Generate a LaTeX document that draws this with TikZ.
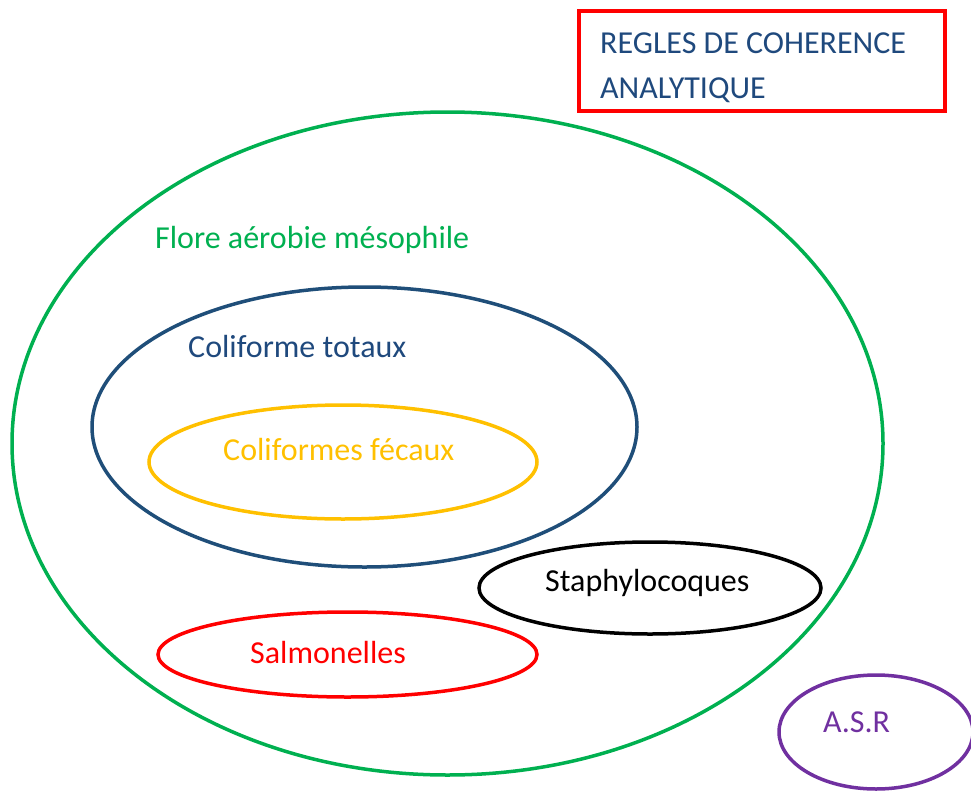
\documentclass[tikz,border=0pt]{standalone}
\usepackage{fontspec}
\setmainfont{Carlito}
\definecolor{navy}{HTML}{1F497D}
\definecolor{ellblue}{HTML}{1F4E79}
\definecolor{grn}{HTML}{00B050}
\definecolor{gold}{HTML}{FFC000}
\definecolor{purp}{HTML}{7030A0}
\begin{document}
\begin{tikzpicture}[x=1pt,y=-1pt,
  ring/.style={line width=3.5pt},
  lbl/.style={anchor=base west,inner sep=0pt,font=\fontsize{32}{38}\selectfont}]
\useasboundingbox (0,0) rectangle (971,792);
% title box
\draw[red,line width=4pt] (579,11) rectangle (945,111);
\node[lbl,text=navy] (t1) at (600,53) {REGLES DE COHERENCE};
\node[lbl,text=navy] (t2) at (600,98) {ANALYTIQUE};
% nested sets
\draw[grn,ring] (447.5,443.5) ellipse [x radius=435.5,y radius=331.5];
\node[lbl,text=grn] (fam) at (155,248) {Flore aérobie mésophile};
\draw[ellblue,ring] (364.5,427) ellipse [x radius=272.5,y radius=140];
\node[lbl,text=navy] (ct) at (188,357) {Coliforme totaux};
\draw[gold,ring] (343,462) ellipse [x radius=194,y radius=57];
\node[lbl,text=gold] (cf) at (223,460) {Coliformes fécaux};
\draw[black,ring] (650,588) ellipse [x radius=171,y radius=46];
\node[lbl,text=black] (st) at (545,591) {Staphylocoques};
\draw[red,ring] (347.5,654.5) ellipse [x radius=189.5,y radius=42.5];
\node[lbl,text=red] (sa) at (250,663) {Salmonelles};
\draw[purp,ring] (876,732) ellipse [x radius=97,y radius=57];
\node[lbl,text=purp] (asr) at (823,732) {A.S.R};
\end{tikzpicture}
\end{document}
